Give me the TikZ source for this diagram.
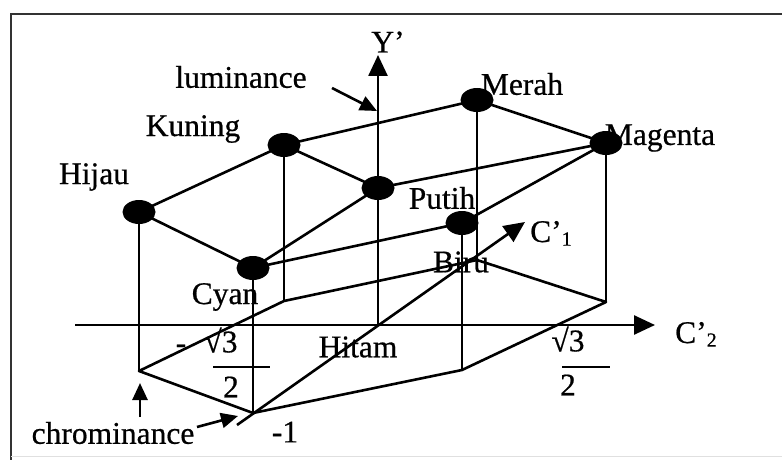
\documentclass[tikz,border=0pt]{standalone}
\usepackage{fontspec}
\setmainfont[FakeBold=0.6]{Liberation Serif}
\usetikzlibrary{arrows.meta,shapes.geometric}
\begin{document}
\begin{tikzpicture}[x=1pt,y=-1pt,
  edge/.style={line width=2.6pt},
  axis/.style={line width=2.6pt,-{Triangle[length=21pt,width=19pt]}},
  pointer/.style={line width=2.6pt,-{Triangle[length=17pt,width=15pt]}},
  dot/.style={ellipse,fill=black,minimum width=33pt,minimum height=24pt,inner sep=0pt},
  lbl/.style={font=\fontsize{31.5}{36}\selectfont,inner sep=0pt}]
\useasboundingbox (0,0) rectangle (782,460);
% frame
\draw[line width=2pt,black!80] (11,460) -- (11,14) -- (782,14);
\draw[line width=1pt,black!12] (11,456) -- (782,456);
% top points
\coordinate (Hi) at (139,212);
\coordinate (Cy) at (253,268);
\coordinate (Ku) at (284,145);
\coordinate (Pu) at (378,188);
\coordinate (Me) at (477,100);
\coordinate (Ma) at (606,143);
\coordinate (Bi) at (462,223);
% bottom points
\coordinate (bHi) at (139,371);
\coordinate (bCy) at (253,413);
\coordinate (bKu) at (284,301);
\coordinate (bMe) at (477,260);
\coordinate (bMa) at (606,302);
\coordinate (bBi) at (462,370);
\coordinate (O) at (378,325);
% axes
\coordinate (Ytip) at (378,55);
\coordinate (C2s) at (75,325);
\coordinate (C2tip) at (655,325);
\coordinate (C1s) at (237,425);
\coordinate (C1tip) at (525,222);
\draw[axis] (O) -- (Ytip);
\draw[axis] (C2s) -- (C2tip);
\draw[axis] (C1s) -- (C1tip);
% bottom hexagon
\draw[edge,line join=round] (bCy) -- (bHi) -- (bKu) -- (bMe) -- (bMa) -- (bBi) -- cycle;
% verticals
\foreach \p in {Hi,Cy,Ku,Me,Ma,Bi} \draw[edge] (\p) -- (b\p);
% top edges
\draw[edge] (Hi) -- (Ku);
\draw[edge] (Hi) -- (Cy);
\draw[edge] (Ku) -- (Pu);
\draw[edge] (Ku) -- (Me);
\draw[edge] (Cy) -- (Pu);
\draw[edge] (Cy) -- (Bi);
\draw[edge] (Me) -- (Ma);
\draw[edge] (Pu) -- (Ma);
\draw[edge] (Bi) -- (Ma);
% dots
\foreach \p in {Hi,Cy,Ku,Pu,Me,Ma,Bi} \node[dot] (d\p) at (\p) {};
% labels
\node[lbl] (tY) at (388,42) {Y’};
\node[lbl] (tlum) at (241,77) {luminance};
\node[lbl] (tKu) at (193,129) {Kuning};
\node[lbl] (tHi) at (94,177) {Hijau};
\node[lbl] (tMe) at (522,84) {Merah};
\node[lbl] (tMa) at (660,138) {Magenta};
\node[lbl] (tPu) at (442,198) {Putih};
\node[lbl,anchor=base west] (tC1) at (530,242) {C’\raisebox{-0.25ex}{\fontsize{20}{22}\selectfont 1}};
\node[lbl] (tBi) at (461,262) {Biru};
\node[lbl] (tCy) at (225,297) {Cyan};
\node[lbl,anchor=base west] (tC2) at (675,343) {C’\raisebox{-0.25ex}{\fontsize{20}{22}\selectfont 2}};
\node[lbl] (tHt) at (358,347) {Hitam};
\node[lbl] (tmin) at (181,349) {-};
\node[lbl] (tsqL) at (221,340) {√3};
\node[lbl] (t2L) at (231,387) {2};
\draw[line width=2pt] (213,367) -- (270,367);
\node[lbl] (tsqR) at (568,339) {√3};
\node[lbl] (t2R) at (568,385) {2};
\draw[line width=2pt] (562,367) -- (610,367);
\node[lbl] (tm1) at (285,432) {-1};
\node[lbl] (tchr) at (113,433) {chrominance};
% pointers
\coordinate (lumS) at (332,88);
\coordinate (lumE) at (377,111);
\draw[pointer] (lumS) -- (lumE);
\coordinate (chU) at (140,383);
\coordinate (chS) at (140,417);
\draw[pointer] (chS) -- (chU);
\coordinate (chR) at (238,416);
\coordinate (chRS) at (197,427);
\draw[pointer] (chRS) -- (chR);
\end{tikzpicture}
\end{document}
